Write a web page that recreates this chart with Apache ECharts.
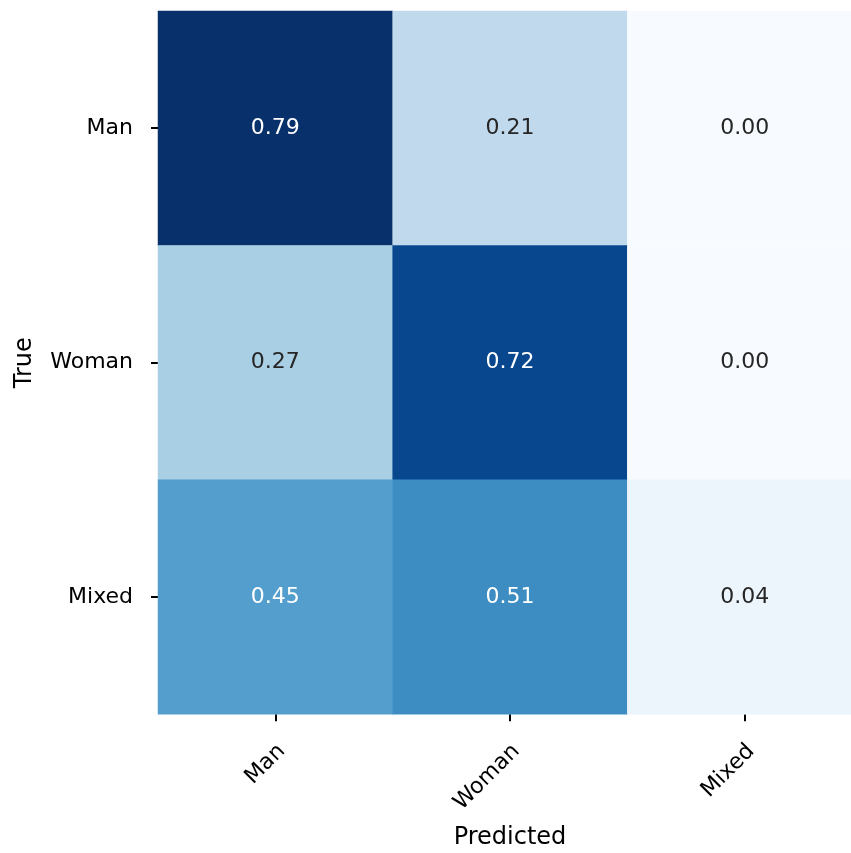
<!DOCTYPE html>
<html>
<head>
<meta charset="utf-8">
<script src="https://cdn.jsdelivr.net/npm/echarts@6/dist/echarts.min.js"></script>
<style>
  html, body { margin: 0; padding: 0; background: #ffffff; overflow: hidden; }
  /* the square matrix runs slightly past the right edge of the window */
  #chart { width: 862px; height: 853px; }
</style>
</head>
<body>
<div id="chart"></div>
<script>
// Confusion matrix: rows are true classes, columns are predicted classes
const predictedLabels = ['Man', 'Woman', 'Mixed'];
const trueLabels = ['Man', 'Woman', 'Mixed'];
const rowMan = [0.79, 0.21, 0.00];
const rowWoman = [0.27, 0.72, 0.00];
const rowMixed = [0.45, 0.51, 0.04];

// matplotlib "Blues" colour ramp
const bluesRamp = ['#f7fbff', '#deebf7', '#c6dbef', '#9ecae1', '#6baed6',
                   '#4292c6', '#2171b5', '#08519c', '#08306b'];

const rows = [rowMan, rowWoman, rowMixed];
const allValues = rows.flat();
const vMin = 0;
const vMax = Math.max(...allValues);

const cells = [];
rows.forEach((row, r) => {
  row.forEach((v, c) => {
    const norm = (v - vMin) / (vMax - vMin);
    cells.push({
      value: [c, r, v],
      label: { color: norm > 0.5 ? '#ffffff' : '#262626' }
    });
  });
});

const font = 'DejaVu Sans';
const chart = echarts.init(document.getElementById('chart'), null, { renderer: 'canvas' });

chart.setOption({
  animation: false,
  backgroundColor: '#ffffff',
  grid: { left: 158, top: 11, right: 0, bottom: 138.7, containLabel: false, outerBoundsMode: 'none' },
  xAxis: {
    type: 'category',
    data: predictedLabels,
    position: 'bottom',
    name: 'Predicted',
    nameLocation: 'middle',
    nameGap: 111,
    nameTextStyle: { fontFamily: font, fontSize: 24, color: '#000000' },
    axisLine: { show: false },
    axisTick: { show: true, alignWithLabel: true, length: 7, lineStyle: { color: '#000000', width: 2 } },
    axisLabel: { rotate: 45, margin: 40, padding: [16, -9, 0, 0], fontFamily: font, fontSize: 22, color: '#000000' },
    splitLine: { show: false }
  },
  yAxis: {
    type: 'category',
    data: trueLabels,
    inverse: true,
    name: 'True',
    nameLocation: 'middle',
    nameGap: 121,
    nameTextStyle: { fontFamily: font, fontSize: 24, color: '#000000' },
    axisLine: { show: false },
    axisTick: { show: true, alignWithLabel: true, length: 7, lineStyle: { color: '#000000', width: 2 } },
    axisLabel: { margin: 25, fontFamily: font, fontSize: 22, color: '#000000' },
    splitLine: { show: false }
  },
  visualMap: {
    type: 'continuous',
    show: false,
    min: vMin,
    max: vMax,
    dimension: 2,
    inRange: { color: bluesRamp }
  },
  series: [{
    type: 'heatmap',
    data: cells,
    itemStyle: { borderWidth: 0 },
    label: {
      show: true,
      fontFamily: font,
      fontSize: 22,
      formatter: p => p.value[2].toFixed(2)
    },
    emphasis: { disabled: true }
  }]
});
</script>
</body>
</html>
